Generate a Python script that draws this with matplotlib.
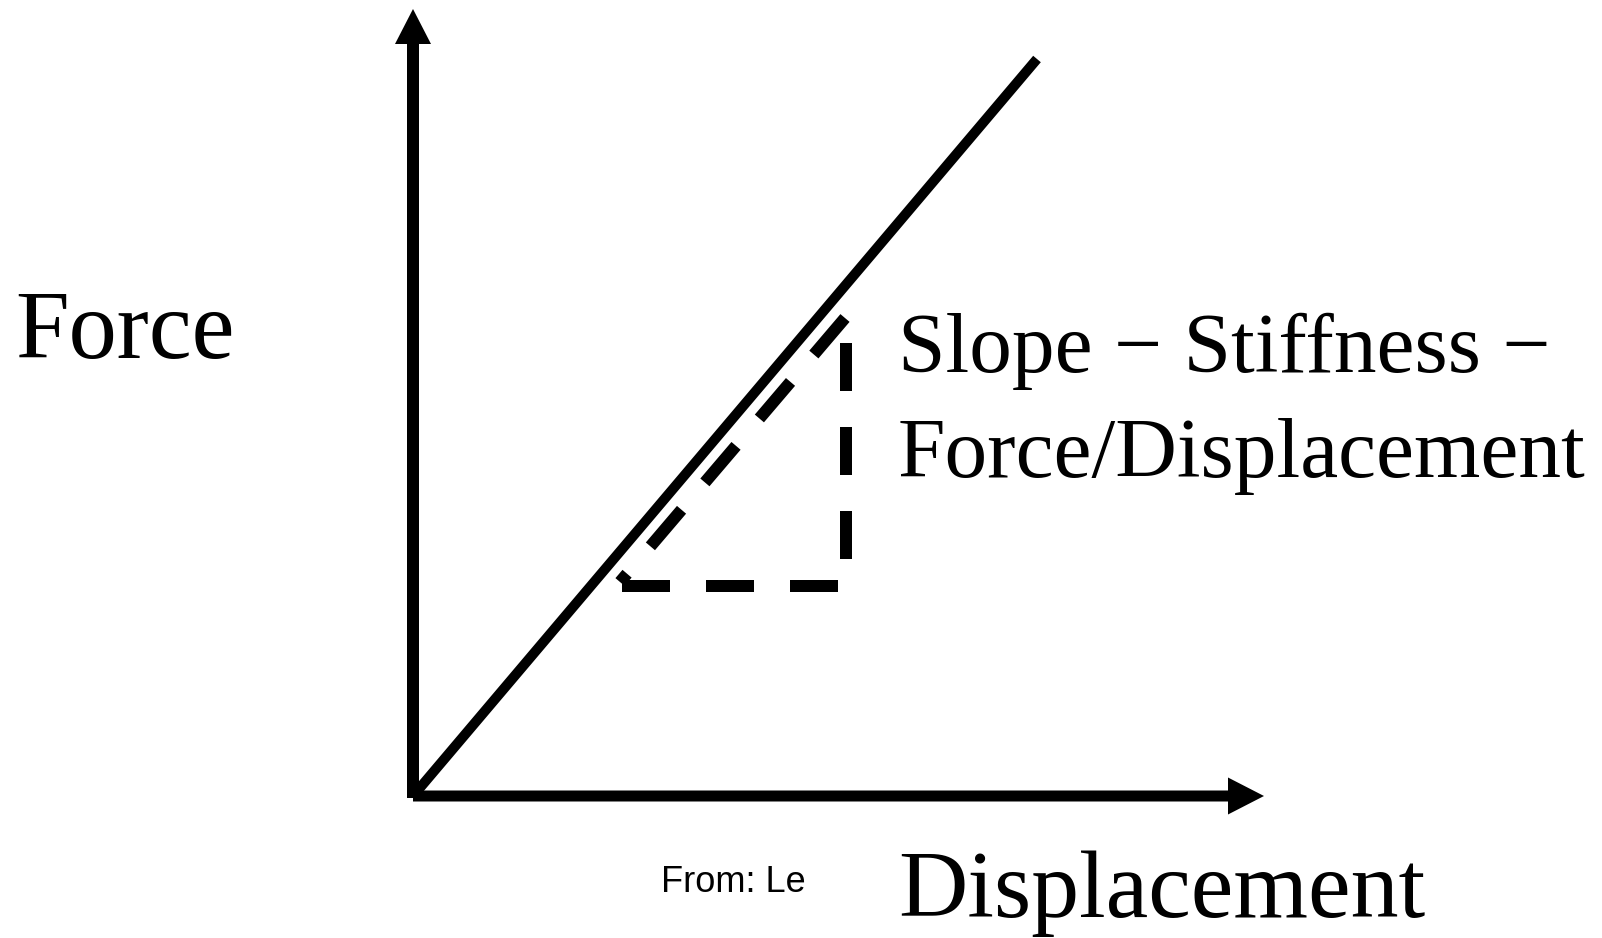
import matplotlib
matplotlib.use("Agg")
import matplotlib.pyplot as plt

# ---- data (diagram units: 1 unit = 1 px, origin at the axes corner) ----
displacement = [0, 624]          # stiffness line, x values
force = [0, 737]                 # stiffness line, y values

tri_hyp_x = [432, 207]           # dashed slope triangle: hypotenuse
tri_hyp_y = [478, 214]
tri_base_x = [209, 433]          # dashed slope triangle: horizontal leg
tri_base_y = [210, 210]
tri_rise_x = [433, 433]          # dashed slope triangle: vertical leg
tri_rise_y = [453, 210]

x_axis_length = 851
y_axis_length = 789

y_label = "Force"
x_label = "Displacement"
slope_lines = ["Slope \u2212 Stiffness \u2212", "Force/Displacement"]
source = "From: Le"

# ---- figure ----
W, H, DPI = 1602, 938, 100
ox, oy = 413, 796   # origin in pixel coordinates (from top-left)
px = 72.0 / DPI     # points per pixel

fig = plt.figure(figsize=(W / DPI, H / DPI), dpi=DPI)
ax = fig.add_axes([0, 0, 1, 1])
ax.set_xlim(-ox, W - ox)
ax.set_ylim(oy - H, oy)
ax.axis("off")

# axes arrows
ax.arrow(0, -2, 0, y_axis_length, width=12, head_width=36, head_length=35,
         length_includes_head=True, color="black", linewidth=0)
ax.arrow(0, 0, x_axis_length, 0, width=11, head_width=37, head_length=36,
         length_includes_head=True, color="black", linewidth=0)

# stiffness line
ax.plot(displacement, force, color="black", linewidth=10 * px,
        solid_capstyle="butt")

# dashed slope triangle
for xs, ys in [(tri_hyp_x, tri_hyp_y), (tri_base_x, tri_base_y),
               (tri_rise_x, tri_rise_y)]:
    ax.plot(xs, ys, color="black", linewidth=12 * px,
            linestyle=(0, (4, 3)), dash_capstyle="butt")

serif = ["Liberation Serif", "DejaVu Serif"]
ax.text(15 - ox, oy - 358, y_label, family=serif, fontsize=69.5,
        ha="left", va="baseline")
ax.text(898 - ox, oy - 372, slope_lines[0], family=serif, fontsize=61.5,
        ha="left", va="baseline")
ax.text(898 - ox, oy - 477, slope_lines[1], family=serif, fontsize=61.5,
        ha="left", va="baseline")
ax.text(898 - ox, oy - 917, x_label, family=serif, fontsize=69,
        ha="left", va="baseline")
ax.text(661 - ox, oy - 892, source, family=["Liberation Sans", "DejaVu Sans"],
        fontsize=26, ha="left", va="baseline")

fig.savefig("out.png", dpi=DPI, facecolor="white")
